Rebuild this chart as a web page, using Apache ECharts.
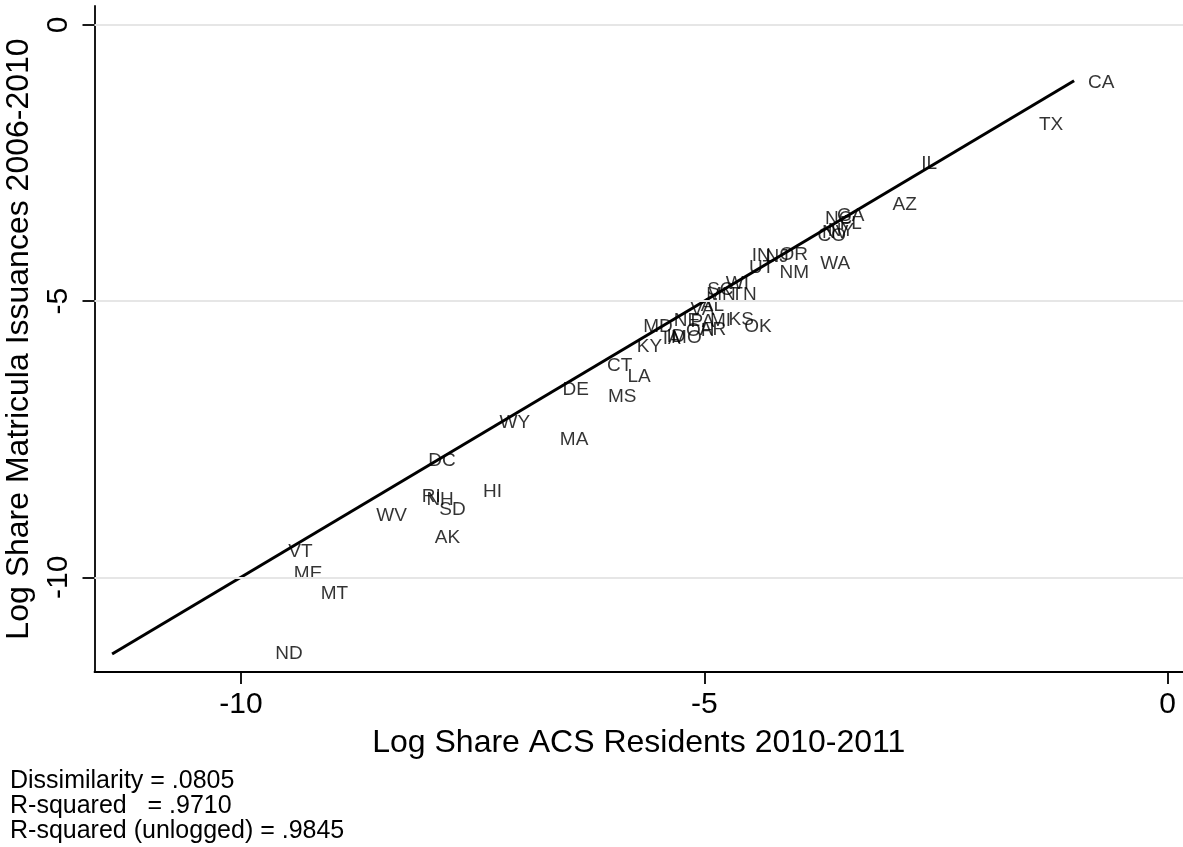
<!DOCTYPE html>
<html>
<head>
<meta charset="utf-8">
<script src="https://cdn.jsdelivr.net/npm/echarts@6/dist/echarts.min.js"></script>
<style>html,body{margin:0;padding:0;background:#fff;}#chart{width:1183px;height:847px;}</style>
</head>
<body>
<div id="chart"></div>
<script>
// State labels with (log share ACS residents, log share matricula issuances)
const states = ['CA','TX','IL','AZ','NC','GA','FL','NV','NY','CO','WA','IN','NJ','OR','UT','NM',
  'SC','WI','MN','TN','VA','AL','MD','NE','PA','MI','KS','OK','IA','ID','MO','OH','AR',
  'KY','CT','LA','DE','MS','WY','MA','DC','HI','RI','NH','SD','WV','AK','VT','ME','MT','ND'];
const logShareACS = [-1.01,-1.54,-2.81,-3.12,-3.85,-3.72,-3.69,-3.88,-3.82,-3.93,-3.90,-4.64,-4.49,-4.34,-4.67,-4.34,
  -5.12,-4.92,-5.13,-4.86,-5.30,-5.19,-5.81,-5.48,-5.30,-5.09,-4.89,-4.72,-5.60,-5.56,-5.51,-5.35,-5.20,
  -5.88,-6.20,-5.98,-6.68,-6.19,-7.36,-6.71,-8.13,-7.54,-8.20,-8.15,-8.01,-8.69,-8.06,-9.64,-9.58,-9.29,-9.78];
const logShareMatricula = [-1.05,-1.81,-2.52,-3.26,-3.51,-3.46,-3.59,-3.77,-3.73,-3.82,-4.33,-4.18,-4.20,-4.16,-4.40,-4.49,
  -4.80,-4.69,-4.89,-4.89,-5.16,-5.09,-5.47,-5.36,-5.38,-5.36,-5.34,-5.47,-5.69,-5.65,-5.67,-5.54,-5.52,
  -5.83,-6.17,-6.37,-6.61,-6.74,-7.21,-7.51,-7.89,-8.46,-8.55,-8.60,-8.78,-8.89,-9.29,-9.54,-9.94,-10.30,-11.39];
const xTicks = [-10, -5, 0];
const yTicks = [-10, -5, 0];
const xTitle = 'Log Share ACS Residents 2010-2011';
const yTitle = 'Log Share Matricula Issuances 2006-2010';
const notes = ['Dissimilarity = .0805', 'R-squared   = .9710', 'R-squared (unlogged) = .9845'];

const FONT = '"Liberation Sans", Arial, Helvetica, sans-serif';
const lo = Math.min(...logShareACS, ...logShareMatricula);
const hi = Math.max(...logShareACS, ...logShareMatricula);
const pts = states.map((s, i) => ({ name: s, value: [logShareACS[i], logShareMatricula[i]] }));

const chart = echarts.init(document.getElementById('chart'), null, { renderer: 'canvas' });
chart.setOption({
  backgroundColor: '#fff',
  animation: false,
  grid: { left: 94.5, top: 6, right: 0, bottom: 175, containLabel: false, outerBoundsMode: 'none' },
  xAxis: {
    type: 'value', min: -11.58, max: 0.165,
    name: xTitle, nameLocation: 'middle', nameGap: 55,
    nameTextStyle: { fontFamily: FONT, fontSize: 32, color: '#000' },
    axisLine: { onZero: false, lineStyle: { color: '#000', width: 1.8 } },
    axisTick: { show: true, length: 12, customValues: xTicks, lineStyle: { color: '#000', width: 1.8 } },
    axisLabel: { customValues: xTicks, margin: 18, fontFamily: FONT, fontSize: 30, color: '#000' },
    splitLine: { show: false }
  },
  yAxis: {
    type: 'value', min: -11.715, max: 0.344,
    name: yTitle, nameLocation: 'middle', nameGap: 50,
    nameTextStyle: { fontFamily: FONT, fontSize: 32, color: '#000' },
    axisLine: { onZero: false, lineStyle: { color: '#000', width: 1.8 } },
    axisTick: { show: true, length: 12, customValues: yTicks, lineStyle: { color: '#000', width: 1.8 } },
    axisLabel: { customValues: yTicks, rotate: 90, margin: 21, fontFamily: FONT, fontSize: 30, color: '#000' },
    splitLine: { show: false }
  },
  series: [
    {
      type: 'line', data: [], z: 1, silent: true,
      markLine: {
        silent: true, symbol: 'none', animation: false,
        label: { show: false },
        lineStyle: { color: '#e6e6e6', width: 2, type: 'solid' },
        data: yTicks.map(v => ({ yAxis: v }))
      }
    },
    {
      type: 'line', z: 3, silent: true, showSymbol: false, symbol: 'none',
      data: [[lo, lo], [hi, hi]],
      lineStyle: { color: '#000', width: 3 }
    },
    {
      type: 'scatter', z: 4, symbolSize: 0, data: pts,
      label: {
        show: true, position: 'right', distance: 14, formatter: '{b}',
        fontFamily: FONT, fontSize: 19, color: '#000'
      }
    }
  ],
  graphic: notes.map((t, i) => ({
    type: 'text', left: 10, top: 769 + i * 25,
    style: { text: t, font: '25px ' + FONT, fill: '#000' }
  }))
});
</script>
</body>
</html>
